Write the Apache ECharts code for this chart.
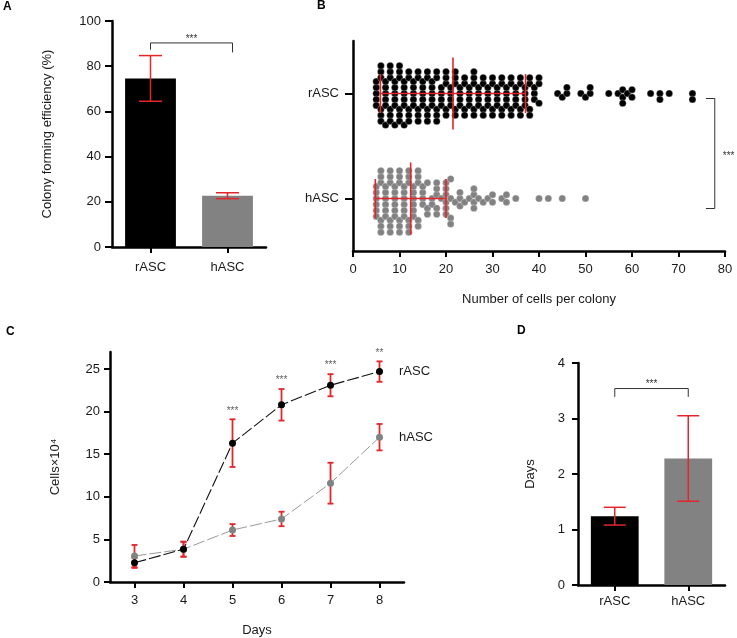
<!DOCTYPE html>
<html><head><meta charset="utf-8">
<script src="https://cdn.jsdelivr.net/npm/echarts@6/dist/echarts.min.js"></script>
<style>html,body{margin:0;padding:0;background:#fff}#c{width:737px;height:638px}</style>
</head><body><div id="c"></div>
<script>
// ---------- DATA ----------
const GROUPS = ['rASC', 'hASC'];
// Panel A: colony forming efficiency (%)
const cfeMean = [74.6, 22.7];
const cfeSd = [10.1, 1.3];
// Panel B: number of cells per colony (distinct sizes and how many colonies had that size)
const rSizes = [5,6,7,8,9,10,11,12,13,14,15,16,17,18,19,20,21,22,23,24,25,26,27,28,29,30,31,32,33,34,35,36,37,38,39,40,44,45,46,49,50,51,55,57,58,59,60,64,66,68,73];
const rCounts = [5,6,6,6,6,6,6,5,5,5,5,5,5,5,4,5,4,5,4,4,4,5,4,4,4,4,4,4,4,4,4,4,4,4,3,3,1,1,2,1,1,2,1,1,3,1,2,1,2,1,2];
const hSizes = [5,6,7,8,9,10,11,12,13,14,15,16,17,18,19,20,21,22,23,24,25,26,27,28,29,30,32,33,35,40,42,45,50];
const hCounts = [6,6,6,6,6,6,6,6,6,5,4,3,2,5,1,6,4,1,3,1,1,4,1,1,1,2,1,2,1,1,1,1,1];
const sizeMean = [21.5, 12.4];
const sizeSd = [15.6, 7.6];
// Panel C: growth (cells x 10^4)
const days = ['3', '4', '5', '6', '7', '8'];
const rGrowth = [2.25, 3.85, 16.3, 20.8, 23.1, 24.7];
const rGrowthSd = [0.6, 0.85, 2.8, 1.85, 1.3, 1.2];
const hGrowth = [3.05, 3.85, 6.1, 7.4, 11.6, 17.0];
const hGrowthSd = [1.3, 0.9, 0.7, 0.85, 2.4, 1.55];
const growthSig = ['', '', '***', '***', '***', '**'];
// Panel D: doubling time (days)
const dtMean = [1.24, 2.28];
const dtSd = [0.16, 0.77];

// ---------- STYLE ----------
const FONT = 'Liberation Sans, Arial, Helvetica, sans-serif';
const RED = '#e3262c';
const GRAY = '#828282';
const TXT = '#1a1a1a';
const axisLine = {show: true, onZero: false, lineStyle: {color: '#000', width: 2.5}};
const tick = (len) => ({show: true, length: len, lineStyle: {color: '#000', width: 2}});
const lab = (m) => ({color: TXT, fontSize: 13, fontFamily: FONT, margin: m});
const nameStyle = {color: TXT, fontSize: 13, fontFamily: FONT};

const GB = {left: 353, top: 41, width: 372, height: 210};
const B_MAX = 80;

function expand(sizes, counts) {
  const out = [];
  sizes.forEach((s, i) => { for (let k = 0; k < counts[i]; k++) out.push(s); });
  return out;
}
function swarm(vals, pxPerUnit, d) {
  const sorted = vals.slice().sort((a, b) => a - b);
  const placed = [];
  const out = [];
  for (const v of sorted) {
    const x = v * pxPerUnit;
    const neigh = placed.filter(p => Math.abs(p.x - x) < d);
    const cands = [0];
    for (const p of neigh) {
      const dx = x - p.x; const h = Math.sqrt(d * d - dx * dx);
      cands.push(p.y + h, p.y - h);
    }
    cands.sort((a, b) => Math.abs(a) - Math.abs(b));
    const y = cands.find(c => neigh.every(p => (p.x - x) ** 2 + (p.y - c) ** 2 >= d * d - 1e-6));
    placed.push({x, y});
    out.push([v, y]);
  }
  return out;
}
const pxU = GB.width / B_MAX;
const swarmData = [];
// category index on B's y axis: 0 = hASC (bottom), 1 = rASC (top)
swarm(expand(hSizes, hCounts), pxU, 6).forEach(([v, dy]) => swarmData.push([v, 0, dy, 0]));
swarm(expand(rSizes, rCounts), pxU, 6).forEach(([v, dy]) => swarmData.push([v, 1, dy, 1]));

function errBar(capW, lw) {
  return function (params, api) {
    const x = api.value(0), lo = api.value(1), hi = api.value(2);
    const p1 = api.coord([x, hi]), p2 = api.coord([x, lo]);
    const s = {stroke: RED, lineWidth: lw};
    return {type: 'group', children: [
      {type: 'line', shape: {x1: p1[0], y1: p1[1], x2: p2[0], y2: p2[1]}, style: s},
      {type: 'line', shape: {x1: p1[0] - capW / 2, y1: p1[1], x2: p1[0] + capW / 2, y2: p1[1]}, style: s},
      {type: 'line', shape: {x1: p2[0] - capW / 2, y1: p2[1], x2: p2[0] + capW / 2, y2: p2[1]}, style: s}
    ]};
  };
}
function bracketV(yTop, yArmL, yArmR, shiftR) {
  return function (params, api) {
    const a0 = api.coord([0, yArmL]), a1 = api.coord([0, yTop]);
    const b1 = api.coord([1, yTop]), b0 = api.coord([1, yArmR]);
    const bx = b1[0] + shiftR;
    return {type: 'group', children: [
      {type: 'polyline', shape: {points: [a0, a1, [bx, b1[1]], [bx, b0[1]]]}, style: {stroke: '#333', lineWidth: 1, fill: null}},
      {type: 'text', style: {text: '***', x: (a1[0] + bx) / 2, y: a1[1] + 1, align: 'center', verticalAlign: 'bottom', fontSize: 10, fontFamily: FONT, fill: '#333'}}
    ]};
  };
}

const chart = echarts.init(document.getElementById('c'));
const option = {
  animation: false,
  backgroundColor: '#fff',
  grid: [
    {left: 112, top: 21, width: 154, height: 226},
    GB,
    {left: 110, top: 352, width: 294, height: 231},
    {left: 578, top: 363, width: 147, height: 222}
  ],
  xAxis: [
    {gridIndex: 0, type: 'category', data: GROUPS, axisLine, axisTick: Object.assign(tick(6), {alignWithLabel: true}), axisLabel: lab(14), splitLine: {show: false}},
    {gridIndex: 1, type: 'value', min: 0, max: B_MAX, interval: 10, axisLine, axisTick: tick(6), axisLabel: lab(12), splitLine: {show: false},
      name: 'Number of cells per colony', nameLocation: 'middle', nameGap: 42, nameTextStyle: nameStyle},
    {gridIndex: 2, type: 'category', data: days, axisLine, axisTick: Object.assign(tick(6), {alignWithLabel: true}), axisLabel: lab(12), splitLine: {show: false},
      name: 'Days', nameLocation: 'middle', nameGap: 42, nameTextStyle: nameStyle},
    {gridIndex: 3, type: 'category', data: GROUPS, axisLine, axisTick: Object.assign(tick(6), {alignWithLabel: true}), axisLabel: lab(10), splitLine: {show: false}}
  ],
  yAxis: [
    {gridIndex: 0, type: 'value', min: 0, max: 100, interval: 20, axisLine, axisTick: tick(7), axisLabel: lab(11), splitLine: {show: false},
      name: 'Colony forming efficiency (%)', nameLocation: 'middle', nameGap: 58, nameTextStyle: nameStyle},
    {gridIndex: 1, type: 'category', data: [GROUPS[1], GROUPS[0]], axisLine, axisTick: Object.assign(tick(8), {alignWithLabel: true}), axisLabel: lab(14), splitLine: {show: false}},
    {gridIndex: 2, type: 'value', min: 0, max: 27, interval: 5, axisLine,
      axisTick: Object.assign(tick(6), {customValues: [0, 5, 10, 15, 20, 25]}),
      axisLabel: Object.assign(lab(10), {customValues: [0, 5, 10, 15, 20, 25]}), splitLine: {show: false},
      name: 'Cells×10⁴', nameLocation: 'middle', nameGap: 48, nameTextStyle: nameStyle},
    {gridIndex: 3, type: 'value', min: 0, max: 4, interval: 1, axisLine, axisTick: tick(6), axisLabel: lab(13), splitLine: {show: false},
      name: 'Days', nameLocation: 'middle', nameGap: 41, nameTextStyle: nameStyle}
  ],
  graphic: [
    {type: 'text', left: 3, top: 1, style: {text: 'A', fontSize: 12, fontWeight: 'bold', fontFamily: FONT, fill: '#000'}},
    {type: 'text', left: 317, top: 0, style: {text: 'B', fontSize: 12, fontWeight: 'bold', fontFamily: FONT, fill: '#000'}},
    {type: 'text', left: 6, top: 326, style: {text: 'C', fontSize: 12, fontWeight: 'bold', fontFamily: FONT, fill: '#000'}},
    {type: 'text', left: 517, top: 325, style: {text: 'D', fontSize: 12, fontWeight: 'bold', fontFamily: FONT, fill: '#000'}}
  ],
  series: [
    // ---- A ----
    {type: 'bar', xAxisIndex: 0, yAxisIndex: 0, barWidth: '66%',
      data: cfeMean.map((v, i) => ({value: v, itemStyle: {color: i === 0 ? '#000' : GRAY}}))},
    {type: 'custom', xAxisIndex: 0, yAxisIndex: 0, z: 5, renderItem: errBar(23, 1.5),
      data: cfeMean.map((v, i) => [i, v - cfeSd[i], v + cfeSd[i]])},
    {type: 'custom', xAxisIndex: 0, yAxisIndex: 0, z: 5, renderItem: bracketV(90.3, 87.3, 86.1, 5), data: [[0, 90]]},
    // ---- B ----
    {type: 'custom', xAxisIndex: 1, yAxisIndex: 1, z: 3, data: swarmData,
      renderItem: function (params, api) {
        const p = api.coord([api.value(0), api.value(1)]);
        return {type: 'circle', shape: {cx: p[0], cy: p[1] + api.value(2), r: 3.5},
          style: {fill: api.value(3) === 1 ? '#000' : GRAY, stroke: '#fff', lineWidth: 0.3}};
      }},
    {type: 'custom', xAxisIndex: 1, yAxisIndex: 1, z: 6,
      data: sizeMean.map((m, i) => [m, i === 0 ? 1 : 0, sizeSd[i]]),
      renderItem: function (params, api) {
        const m = api.value(0), c = api.value(1), sd = api.value(2);
        const pc = api.coord([m, c]), pl = api.coord([m - sd, c]), pr = api.coord([m + sd, c]);
        const s = {stroke: RED, lineWidth: 1.6};
        const y = pc[1];
        return {type: 'group', children: [
          {type: 'line', shape: {x1: pl[0], y1: y, x2: pr[0], y2: y}, style: s},
          {type: 'line', shape: {x1: pc[0], y1: y - 36, x2: pc[0], y2: y + 36}, style: s},
          {type: 'line', shape: {x1: pl[0], y1: y - 19.5, x2: pl[0], y2: y + 19.5}, style: s},
          {type: 'line', shape: {x1: pr[0], y1: y - 19.5, x2: pr[0], y2: y + 19.5}, style: s}
        ]};
      }},
    {type: 'custom', xAxisIndex: 1, yAxisIndex: 1, z: 6, data: [[77.8, 0]],
      renderItem: function (params, api) {
        const top = api.coord([77.8, 1]), bot = api.coord([77.8, 0]);
        const arm = api.coord([75.9, 0])[0];
        const x = top[0], y1 = top[1] + 5, y2 = bot[1] + 10;
        return {type: 'group', children: [
          {type: 'polyline', shape: {points: [[arm, y1], [x, y1], [x, y2], [arm, y2]]}, style: {stroke: '#333', lineWidth: 1, fill: null}},
          {type: 'text', style: {text: '***', x: x + 8, y: (y1 + y2) / 2 + 3, align: 'left', verticalAlign: 'middle', fontSize: 10, fontFamily: FONT, fill: '#333'}}
        ]};
      }},
    // ---- C ----
    {type: 'custom', xAxisIndex: 2, yAxisIndex: 2, z: 2, renderItem: errBar(6, 1.8),
      data: rGrowth.map((v, i) => [i, v - rGrowthSd[i], v + rGrowthSd[i]]).concat(hGrowth.map((v, i) => [i, v - hGrowthSd[i], v + hGrowthSd[i]]))},
    {type: 'line', xAxisIndex: 2, yAxisIndex: 2, z: 4, symbol: 'circle', symbolSize: 7, showSymbol: true,
      itemStyle: {color: GRAY}, lineStyle: {color: '#9a9a9a', width: 1, type: [12, 3]},
      data: hGrowth.map((v, i) => i === hGrowth.length - 1 ? {value: v, label: {show: true, position: 'right', distance: 16, formatter: GROUPS[1], color: TXT, fontSize: 13, fontFamily: FONT}} : v)},
    {type: 'line', xAxisIndex: 2, yAxisIndex: 2, z: 4, symbol: 'circle', symbolSize: 7, showSymbol: true,
      itemStyle: {color: '#000'}, lineStyle: {color: '#111', width: 1.1, type: [12, 3]},
      data: rGrowth.map((v, i) => i === rGrowth.length - 1 ? {value: v, label: {show: true, position: 'right', distance: 16, formatter: GROUPS[0], color: TXT, fontSize: 13, fontFamily: FONT}} : v)},
    {type: 'scatter', xAxisIndex: 2, yAxisIndex: 2, z: 5, symbolSize: 1, itemStyle: {color: 'rgba(0,0,0,0)'},
      data: rGrowth.map((v, i) => ({value: [i, v + rGrowthSd[i]], label: {show: growthSig[i] !== '', formatter: growthSig[i], position: 'top', distance: 3, color: '#333', fontSize: 10, fontFamily: FONT}}))},
    // ---- D ----
    {type: 'bar', xAxisIndex: 3, yAxisIndex: 3, barWidth: '65%',
      data: dtMean.map((v, i) => ({value: v, itemStyle: {color: i === 0 ? '#000' : GRAY}}))},
    {type: 'custom', xAxisIndex: 3, yAxisIndex: 3, z: 5, renderItem: errBar(22, 1.5),
      data: dtMean.map((v, i) => [i, v - dtSd[i], v + dtSd[i]])},
    {type: 'custom', xAxisIndex: 3, yAxisIndex: 3, z: 5, renderItem: bracketV(3.54, 3.39, 3.39, 0), data: [[0, 3.5]]}
  ]
};
chart.setOption(option);
</script>
</body></html>
